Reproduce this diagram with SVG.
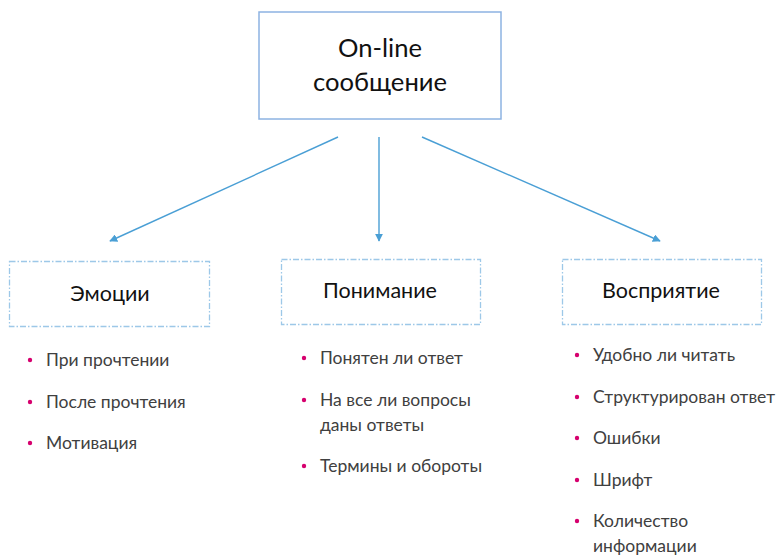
<svg xmlns="http://www.w3.org/2000/svg" width="783" height="555" viewBox="0 0 783 555">
<defs>
<style>
.top{fill:#fff;stroke:#8DB3E2;stroke-width:1.5}
.cat{fill:none;stroke:#9DC8E8;stroke-width:1.3;stroke-dasharray:6 2 1.5 2}
.t{font-family:Lato,"Open Sans",sans-serif;fill:#111}
.h{font-size:25.6px;text-anchor:middle}
.c{font-size:21.5px;text-anchor:middle}
.b{font-family:Lato,"Open Sans",sans-serif;font-size:17.5px;fill:#404040}
.d{fill:#D6006E}
.arr{stroke:#4A9FD5;stroke-width:1.4;fill:none}
</style>
<marker id="ah" viewBox="0 0 10 10" refX="9" refY="5" markerWidth="8" markerHeight="8" markerUnits="userSpaceOnUse" orient="auto">
<path d="M0,0 L10,5 L0,10 Z" fill="#4A9FD5"/>
</marker>
</defs>
<rect width="783" height="555" fill="#fff"/>
<g id="connectors">
<line class="arr" x1="338" y1="137" x2="110" y2="241" marker-end="url(#ah)"/>
<line class="arr" x1="379" y1="137" x2="379" y2="241" marker-end="url(#ah)"/>
<line class="arr" x1="422" y1="137" x2="660" y2="241" marker-end="url(#ah)"/>
</g>
<g id="online">
<rect class="top" x="259" y="12" width="242" height="107"/>
<text class="t h" x="380" y="57">On-line</text>
<text class="t h" x="380" y="91">сообщение</text>
</g>
<g id="emotions">
<rect class="cat" x="9.5" y="261.5" width="200" height="65"/>
<text class="t c" x="110" y="301">Эмоции</text>
<circle class="d" cx="30" cy="360" r="2.2"/>
<text class="b" x="46" y="366">При прочтении</text>
<circle class="d" cx="30" cy="402" r="2.2"/>
<text class="b" x="46" y="408">После прочтения</text>
<circle class="d" cx="30" cy="443" r="2.2"/>
<text class="b" x="46" y="449">Мотивация</text>
</g>
<g id="understanding">
<rect class="cat" x="281.5" y="259.5" width="199" height="65"/>
<text class="t c" x="380" y="298">Понимание</text>
<circle class="d" cx="304" cy="358" r="2.2"/>
<text class="b" x="320" y="364">Понятен ли ответ</text>
<circle class="d" cx="304" cy="400" r="2.2"/>
<text class="b" x="320" y="406">На все ли вопросы</text>
<text class="b" x="320" y="431">даны ответы</text>
<circle class="d" cx="304" cy="466" r="2.2"/>
<text class="b" x="320" y="472">Термины и обороты</text>
</g>
<g id="perception">
<rect class="cat" x="562.5" y="259.5" width="199" height="65"/>
<text class="t c" x="661" y="298">Восприятие</text>
<circle class="d" cx="577" cy="355" r="2.2"/>
<text class="b" x="593" y="361">Удобно ли читать</text>
<circle class="d" cx="577" cy="397" r="2.2"/>
<text class="b" x="593" y="403">Структурирован ответ</text>
<circle class="d" cx="577" cy="438" r="2.2"/>
<text class="b" x="593" y="444">Ошибки</text>
<circle class="d" cx="577" cy="480" r="2.2"/>
<text class="b" x="593" y="486">Шрифт</text>
<circle class="d" cx="577" cy="521" r="2.2"/>
<text class="b" x="593" y="527">Количество</text>
<text class="b" x="593" y="552">информации</text>
</g>
</svg>
